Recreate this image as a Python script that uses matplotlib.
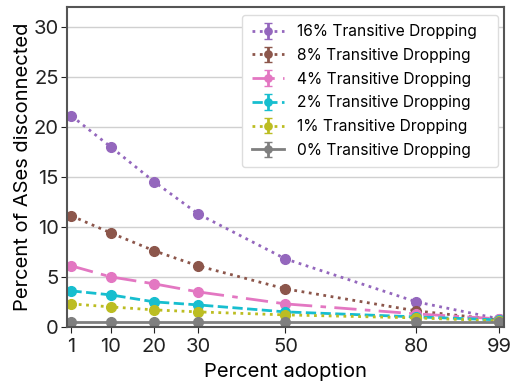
import matplotlib
matplotlib.use("Agg")
import matplotlib.pyplot as plt

plt.rcParams['font.family'] = ['Inter', 'DejaVu Sans']

adoption = [1, 10, 20, 30, 50, 80, 99]
labels = ["16% Transitive Dropping", "8% Transitive Dropping", "4% Transitive Dropping",
          "2% Transitive Dropping", "1% Transitive Dropping", "0% Transitive Dropping"]
d16 = [21.1, 18.0, 14.5, 11.3, 6.8, 2.5, 0.8]
d8 = [11.1, 9.4, 7.6, 6.1, 3.8, 1.6, 0.7]
d4 = [6.1, 5.0, 4.3, 3.5, 2.3, 1.3, 0.8]
d2 = [3.6, 3.2, 2.5, 2.2, 1.5, 1.0, 0.7]
d1 = [2.3, 2.0, 1.7, 1.5, 1.2, 0.9, 0.6]
d0 = [0.5, 0.5, 0.5, 0.5, 0.5, 0.5, 0.5]
series = [d16, d8, d4, d2, d1, d0]
colors = ['tab:purple', 'tab:brown', 'tab:pink', 'tab:cyan', 'tab:olive', 'tab:gray']
styles = [':', ':', (0, (8, 3, 2, 3)), '--', ':', '-']

fig, ax = plt.subplots(figsize=(5.12, 3.81), dpi=100)
for vals, lab, c, ls in zip(series, labels, colors, styles):
    ax.errorbar(adoption, vals, yerr=[0.0]*len(vals), color=c, linestyle=ls, linewidth=2,
                marker='o', markersize=7, capsize=3, label=lab)

ax.set_xlim(0, 100)
ax.set_ylim(0, 32)
ax.set_xticks(adoption)
ax.set_yticks([0, 5, 10, 15, 20, 25, 30])
ax.tick_params(labelsize=14.5, colors='#222222', length=4)
ax.tick_params(axis='x', pad=4)
ax.tick_params(axis='y', pad=2)
ax.yaxis.grid(True, color='#d0d0d0', linewidth=1)
ax.set_axisbelow(True)
for s in ax.spines.values():
    s.set_color('#555555')
    s.set_linewidth(1.5)
ax.set_xlabel("Percent adoption", fontsize=14.5, labelpad=5)
ax.set_ylabel("Percent of ASes disconnected", fontsize=14.5, labelpad=1)
leg = ax.legend(loc='upper left', bbox_to_anchor=(0.401, 0.3, 0.585, 0.675), mode='expand',
                borderaxespad=0, fontsize=11.2, framealpha=1, edgecolor='#dddddd',
                handlelength=2.1, handletextpad=0.8, labelspacing=0.56, markerscale=0.75,
                borderpad=0.6)
fig.subplots_adjust(left=0.131, right=0.984, top=0.982, bottom=0.142)
fig.savefig("out.png", dpi=100)
